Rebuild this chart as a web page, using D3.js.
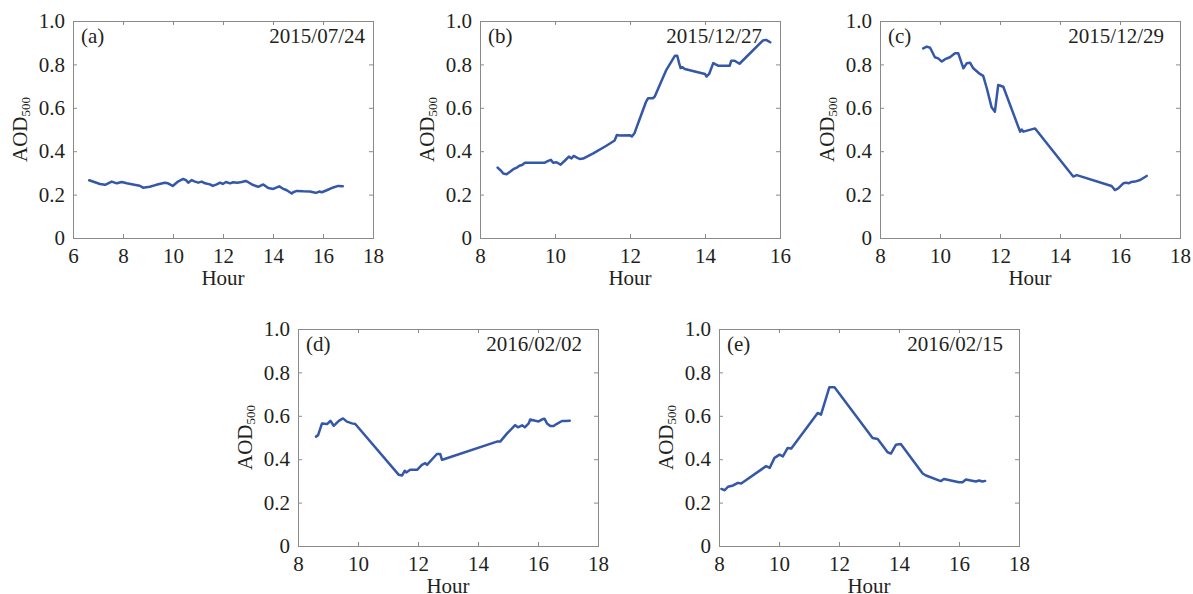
<!DOCTYPE html>
<html>
<head>
<meta charset="utf-8">
<title>AOD500 diurnal variation</title>
<script src="https://cdn.jsdelivr.net/npm/d3@7"></script>
<style>
	body{ margin:0; background:#fff; }
	svg text{ font-family:"Liberation Serif","Times New Roman",serif; fill:#231f20; }
	.axis path{ display:none; }
	.axis line{ stroke:#8a8a8a; }
	.axis text{ font-size:21px; }
	.box{ fill:none; stroke:#8a8a8a; stroke-width:1; }
	.aod{ fill:none; stroke:#3457a8; stroke-width:2.5; stroke-linejoin:round; stroke-linecap:round; }
</style>
</head>
<body>
<div id="chart"></div>
<script>
// ---- data ----
var hourA = [6.65,7.08,7.28,7.55,7.75,7.95,8.15,8.4,8.67,8.8,9.07,9.33,9.67,9.8,9.99,10.2,10.41,10.52,10.61,10.75,10.88,11.01,11.15,11.28,11.48,11.59,11.75,11.88,11.99,12.12,12.28,12.41,12.57,12.75,12.9,13.01,13.21,13.41,13.61,13.81,14.01,14.25,14.39,14.55,14.75,14.81,14.95,15.21,15.48,15.61,15.72,15.85,15.95,16.15,16.41,16.61,16.79];
var aodA  = [0.266,0.249,0.245,0.26,0.252,0.258,0.252,0.247,0.241,0.232,0.236,0.245,0.255,0.252,0.24,0.26,0.272,0.267,0.255,0.267,0.26,0.255,0.26,0.252,0.247,0.24,0.247,0.255,0.249,0.258,0.252,0.257,0.255,0.258,0.263,0.257,0.244,0.236,0.247,0.23,0.226,0.238,0.228,0.22,0.205,0.211,0.217,0.215,0.214,0.211,0.208,0.214,0.211,0.22,0.233,0.24,0.238];

var hourB = [8.47,8.56,8.62,8.71,8.8,8.89,8.98,9.05,9.12,9.2,9.73,9.82,9.89,9.95,10.04,10.15,10.26,10.37,10.44,10.5,10.57,10.66,10.75,11.02,11.37,11.59,11.65,11.72,11.99,12.05,12.12,12.3,12.43,12.48,12.61,12.66,12.97,13.2,13.26,13.31,13.35,13.4,13.46,14.0,14.04,14.11,14.22,14.31,14.35,14.66,14.7,14.79,14.92,15.54,15.63,15.74];
var aodB  = [0.324,0.31,0.297,0.294,0.305,0.317,0.324,0.333,0.336,0.347,0.347,0.355,0.36,0.347,0.349,0.338,0.356,0.375,0.367,0.378,0.372,0.364,0.366,0.39,0.425,0.449,0.475,0.472,0.474,0.468,0.483,0.568,0.629,0.644,0.644,0.652,0.775,0.84,0.84,0.806,0.783,0.787,0.779,0.756,0.744,0.756,0.806,0.798,0.794,0.794,0.817,0.817,0.803,0.91,0.913,0.902];

var hourC = [9.44,9.56,9.67,9.83,9.94,10.06,10.17,10.33,10.5,10.61,10.78,10.89,11.0,11.11,11.33,11.44,11.56,11.72,11.83,11.94,12.11,12.67,12.72,12.78,13.17,14.44,14.56,15.61,15.72,15.83,15.94,16.11,16.2,16.28,16.37,16.5,16.67,16.89];
var aodC  = [0.874,0.882,0.877,0.833,0.828,0.813,0.824,0.833,0.851,0.851,0.782,0.805,0.808,0.782,0.756,0.747,0.69,0.602,0.582,0.705,0.697,0.49,0.5,0.49,0.505,0.283,0.29,0.244,0.24,0.221,0.229,0.252,0.255,0.252,0.258,0.26,0.267,0.286];

var hourD = [8.6,8.67,8.8,8.97,9.08,9.19,9.36,9.5,9.63,9.8,9.91,11.36,11.47,11.56,11.61,11.74,11.97,12.13,12.24,12.3,12.63,12.74,12.8,12.86,14.63,14.74,14.97,15.19,15.24,15.33,15.47,15.56,15.69,15.74,15.91,16.02,16.16,16.22,16.3,16.41,16.52,16.63,16.8,16.91,17.06];
var aodD  = [0.504,0.511,0.565,0.562,0.577,0.554,0.577,0.588,0.573,0.565,0.562,0.328,0.325,0.347,0.339,0.351,0.351,0.374,0.382,0.374,0.424,0.424,0.397,0.4,0.481,0.481,0.519,0.55,0.557,0.547,0.556,0.547,0.565,0.583,0.577,0.574,0.585,0.586,0.565,0.553,0.553,0.563,0.576,0.576,0.577];

var hourE = [8.08,8.19,8.3,8.47,8.63,8.74,9.57,9.69,9.85,10.02,10.13,10.29,10.41,11.29,11.4,11.68,11.85,13.12,13.29,13.62,13.73,13.9,14.06,14.79,14.9,15.39,15.5,16.0,16.12,16.23,16.56,16.67,16.78,16.87];
var aodE  = [0.263,0.257,0.273,0.279,0.291,0.288,0.368,0.36,0.406,0.421,0.413,0.452,0.449,0.613,0.605,0.732,0.732,0.498,0.493,0.432,0.426,0.467,0.47,0.334,0.325,0.299,0.309,0.294,0.294,0.306,0.297,0.302,0.297,0.3];

var tagNames  = ['(a)','(b)','(c)','(d)','(e)'];
var dateNames = ['2015/07/24','2015/12/27','2015/12/29','2016/02/02','2016/02/15'];
var xTicksA = [6,8,10,12,14,16,18];
var xTicksB = [8,10,12,14,16];
var xTicksC = [8,10,12,14,16,18];
var yTicks  = [0,0.2,0.4,0.6,0.8,1.0];
var yTickLabels = ['0','0.2','0.4','0.6','0.8','1.0'];

// ---- layout ----
var W = 1193, H = 594;
var pw = 300, ph = 217;
var FONT = '"Liberation Serif","Times New Roman",serif';
var panels = [
	{ left:73,  top:21,  hours:hourA, aod:aodA, ticks:xTicksA, dateGap:8 },
	{ left:480, top:21,  hours:hourB, aod:aodB, ticks:xTicksB, dateGap:18 },
	{ left:880, top:21,  hours:hourC, aod:aodC, ticks:xTicksC, dateGap:16 },
	{ left:298, top:329, hours:hourD, aod:aodD, ticks:xTicksC, dateGap:16 },
	{ left:719, top:329, hours:hourE, aod:aodE, ticks:xTicksC, dateGap:16 }
];

var svg = d3.select('#chart').append('svg')
	.attr('width', W).attr('height', H)
	.attr('font-family', FONT);

panels.forEach(function(p, i){
	var g = svg.append('g').attr('transform','translate(' + p.left + ',' + p.top + ')');
	var xs = d3.scaleLinear()
		.domain([p.ticks[0], p.ticks[p.ticks.length - 1]])
		.range([0, pw]);
	var ys = d3.scaleLinear().domain([0, 1]).range([ph, 0]);

	var axes = [
		g.append('g').attr('transform','translate(0,' + ph + ')')
			.call(d3.axisBottom(xs).tickValues(p.ticks).tickSize(-4).tickSizeOuter(0).tickPadding(10)
				.tickFormat(d3.format('d'))),
		g.append('g')
			.call(d3.axisTop(xs).tickValues(p.ticks).tickSize(-4).tickSizeOuter(0).tickFormat('')),
		g.append('g')
			.call(d3.axisLeft(ys).tickValues(yTicks).tickSize(-4).tickSizeOuter(0).tickPadding(8)
				.tickFormat(function(d, j){ return yTickLabels[j]; })),
		g.append('g').attr('transform','translate(' + pw + ',0)')
			.call(d3.axisRight(ys).tickValues(yTicks).tickSize(-4).tickSizeOuter(0).tickFormat(''))
	];
	axes.forEach(function(a){
		a.attr('class','axis').attr('font-family', FONT).attr('font-size', 21);
	});

	g.append('rect').attr('class','box')
		.attr('x', 0.5).attr('y', 0.5).attr('width', pw).attr('height', ph);

	var line = d3.line()
		.x(function(d){ return xs(d[0]); })
		.y(function(d){ return ys(d[1]); });
	g.append('path').attr('class','aod')
		.datum(d3.zip(p.hours, p.aod))
		.attr('d', line);

	g.append('text').attr('x', 8).attr('y', 22)
		.style('font-size','21px').text(tagNames[i]);
	g.append('text').attr('x', pw - p.dateGap).attr('y', 22)
		.attr('text-anchor','end').style('font-size','21px').text(dateNames[i]);

	g.append('text').attr('x', pw / 2).attr('y', ph + 47)
		.attr('text-anchor','middle').style('font-size','21px').text('Hour');

	var yl = g.append('text')
		.attr('transform','translate(-46,' + (ph / 2) + ') rotate(-90)')
		.attr('text-anchor','middle').style('font-size','21px');
	yl.append('tspan').text('AOD');
	yl.append('tspan').attr('dy', 3).style('font-size','13px').text('500');
});
</script>
</body>
</html>
